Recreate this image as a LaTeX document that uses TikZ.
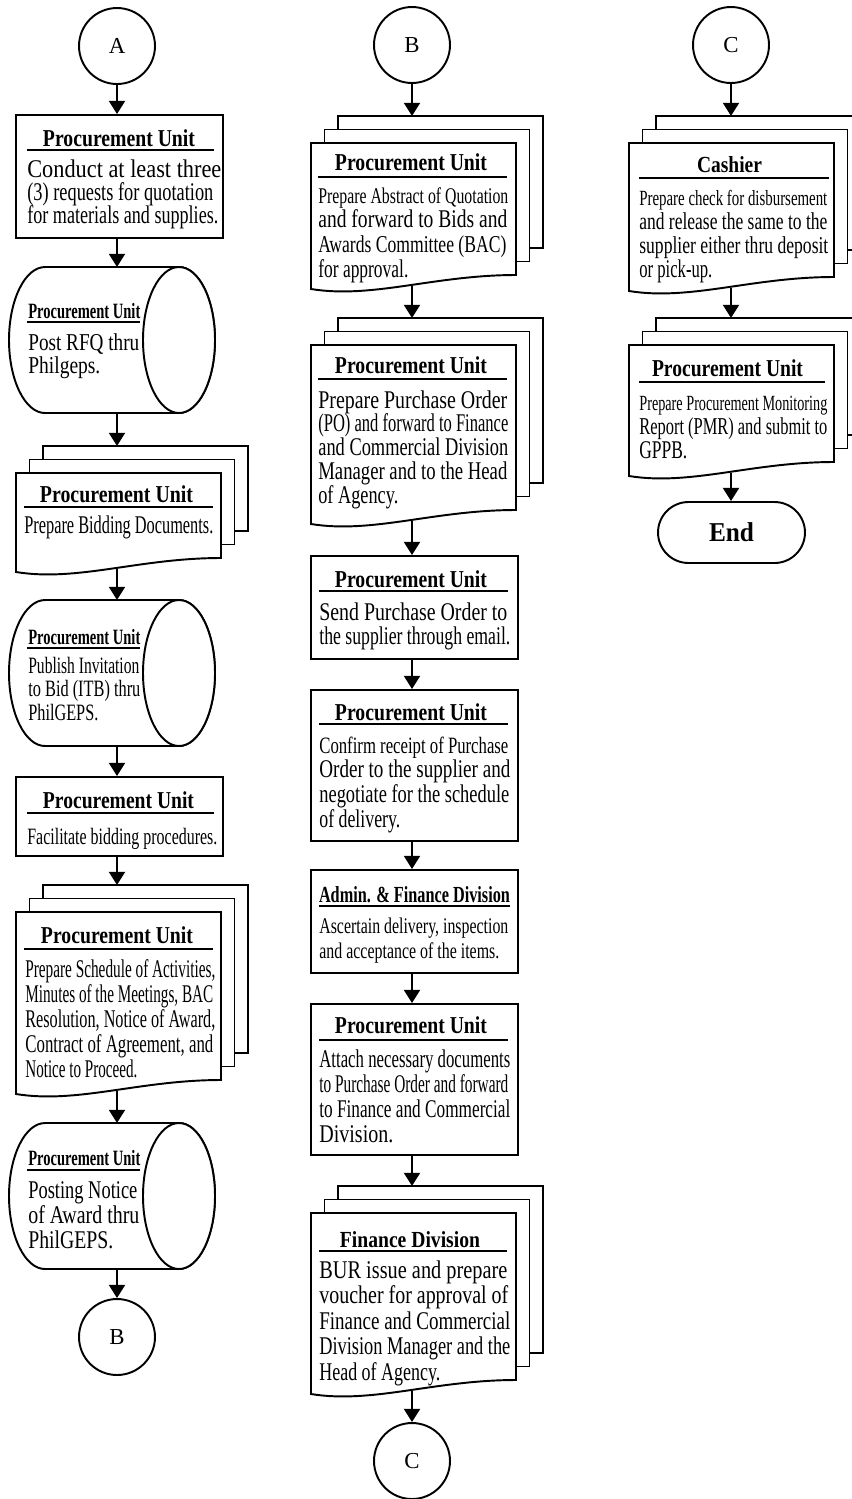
\documentclass[tikz,border=0pt]{standalone}
\usepackage{fontspec}
\setmainfont{Liberation Serif}
\usepackage{graphicx}
\usetikzlibrary{arrows.meta,shapes.misc}

% one drawing unit (a "px") on the page
\newlength\pxu \setlength\pxu{0.02cm}
% a single text line squeezed horizontally to a given width (optional vertical factor)
\newcommand\tline[3][1]{\hbox{\resizebox{#2\pxu}{#1\height}{#3}}}
% a stack of lines with a fixed baseline distance; baseline = first line
\newcommand\tblock[2]{\vtop{\baselineskip=#1\pxu\lineskiplimit=-\maxdimen\lineskip=0pt\relax#2}}
\newcommand\bodyfont{\fontsize{14.5}{14.5}\selectfont}
\newcommand\titlefont{\fontsize{13.8}{13.8}\selectfont\bfseries}

\tikzset{
  shp/.style={draw, line width=1.1pt, fill=white},
  pbox/.style={shp, rectangle, inner sep=0pt},
  hold/.style={rectangle, draw=none, inner sep=0pt, outer sep=0pt, minimum width=0.2cm},
  conn/.style={shp, circle, inner sep=0pt, minimum size=1.52cm, font=\fontsize{13}{13}\selectfont},
  term/.style={shp, rounded rectangle, inner sep=0pt, minimum width=2.94cm, minimum height=1.22cm, font=\fontsize{15.5}{15.5}\selectfont\bfseries},
  arr/.style={line width=1.5pt, -{Triangle[length=7.5pt,width=9pt]}},
  uline/.style={line width=1.1pt},
  ttl/.style={anchor=base, inner sep=0pt, font=\titlefont},
  ttlw/.style={anchor=base west, inner sep=0pt, font=\titlefont},
  body/.style={anchor=base west, inner sep=0pt, font=\bodyfont},
}

% stacked documents: name, front left x, front top y, front right bottom y, axis x
\newcommand\mdoc[5]{%
  \draw[shp] ({#2+27},{#3-27}) rectangle ({#2+232},{#4-27});
  \draw[shp] ({#2+13.5},{#3-13.5}) rectangle ({#2+218.5},{#4-13.5});
  \draw[shp] (#2,#3) -- ({#2+205},#3) -- ({#2+205},#4)
    .. controls ({#2+123},#4) and ({#2+61.5},{#4+24}) .. (#2,{#4+14}) -- cycle;
  \node[hold, minimum height={(#4+37.5-#3)*\pxu}] (#1) at (#5,{(#3-27+#4+10.5)/2}) {};
}
% horizontal storage drum: name, top y, axis x
\newcommand\cyl[3]{%
  \draw[shp] (45,#2) -- (179,#2)
    arc[start angle=90, end angle=-90, x radius=0.72cm, y radius=1.46cm]
    -- (45,{#2+146})
    arc[start angle=270, end angle=90, x radius=0.72cm, y radius=1.46cm] -- cycle;
  \draw[shp] (179,{#2+73}) ellipse[x radius=0.72cm, y radius=1.46cm];
  \node[hold, minimum height={146*\pxu}] (#1) at (#3,{#2+73}) {};
}

\begin{document}
\begin{tikzpicture}[x=0.02cm, y=-0.02cm]
\useasboundingbox (0,0) rectangle (852,1499);
\fill[white] (0,0) rectangle (852,1499);
\clip (0,0) rectangle (852,1499);

\coordinate (axA) at (117,0);
\coordinate (axB) at (412,0);
\coordinate (axC) at (731,0);

% ---------------- column A ----------------
\node[conn] (cA) at (117,46) {A};
\node[pbox, minimum width=4.14cm, minimum height=2.46cm] (a1) at (119.5,176.5) {};
\cyl{a2}{267}{117}
\mdoc{a3}{16}{473}{558}{117}
\cyl{a4}{600}{117}
\node[pbox, minimum width=4.14cm, minimum height=1.58cm] (a5) at (119.5,816.5) {};
\mdoc{a6}{16}{912}{1080}{117}
\cyl{a7}{1123}{117}
\node[conn] (cB2) at (117,1337) {B};

% ---------------- column B ----------------
\node[conn] (cB) at (412,45) {B};
\mdoc{b1}{311}{143}{275}{412}
\mdoc{b2}{311}{345}{510}{412}
\node[pbox, minimum width=4.14cm, minimum height=2.06cm] (b3) at (414.5,607.5) {};
\node[pbox, minimum width=4.14cm, minimum height=3.02cm] (b4) at (414.5,765.5) {};
\node[pbox, minimum width=4.14cm, minimum height=2.06cm] (b5) at (414.5,921.5) {};
\node[pbox, minimum width=4.14cm, minimum height=3.02cm] (b6) at (414.5,1079.5) {};
\mdoc{b7}{311}{1213}{1380}{412}
\node[conn] (cC2) at (412,1461) {C};

% ---------------- column C ----------------
\node[conn] (cC) at (731,45) {C};
\mdoc{c1}{629}{143}{277}{731}
\mdoc{c2}{629}{345}{462}{731}
\node[term] (cEnd) at (731.5,532.5) {\tline{45}{End}};

% ---------------- texts, column A ----------------
\node[ttl] (a1t) at (119,146) {\tline{152}{Procurement Unit}};
\draw[uline] (27,150) -- (214,150);
\node[body] (a1b) at (27,177) {\tblock{23}{%
  \tline{194}{Conduct at least three}%
  \tline{186}{(3) requests for quotation}%
  \tline{191}{for materials and supplies.}}};

\node[ttlw] (a2t) at (28,318) {\tline[0.9]{112}{Procurement Unit}};
\draw[uline] (27,322) -- (140,322);
\node[body] (a2b) at (28,350) {\tblock{23.5}{%
  \tline[0.95]{111}{Post RFQ thru}%
  \tline[0.95]{72}{Philgeps.}}};

\node[ttl] (a3t) at (116.5,502) {\tline{153}{Procurement Unit}};
\draw[uline] (24,507) -- (213,507);
\node[body] (a3b) at (24,533) {\tline{189}{Prepare Bidding Documents.}};

\node[ttlw] (a4t) at (28,644) {\tline[0.9]{112}{Procurement Unit}};
\draw[uline] (27,648) -- (140,648);
\node[body] (a4b) at (28,673) {\tblock{23.5}{%
  \tline[0.92]{111}{Publish Invitation}%
  \tline[0.92]{112}{to Bid (ITB) thru}%
  \tline[0.92]{70}{PhilGEPS.}}};

\node[ttl] (a5t) at (118.5,808) {\tline{151}{Procurement Unit}};
\draw[uline] (27,813) -- (214,813);
\node[body] (a5b) at (27,844) {\tline[0.92]{190}{Facilitate bidding procedures.}};

\node[ttl] (a6t) at (117,943) {\tline{152}{Procurement Unit}};
\draw[uline] (24,949) -- (213,949);
\node[body] (a6b) at (25,977) {\tblock{25}{%
  \tline{190}{Prepare Schedule of Activities,}%
  \tline{188}{Minutes of the Meetings, BAC}%
  \tline{190}{Resolution, Notice of Award,}%
  \tline{188}{Contract of Agreement, and}%
  \tline{112}{Notice to Proceed.}}};

\node[ttlw] (a7t) at (28,1165) {\tline[0.9]{112}{Procurement Unit}};
\draw[uline] (27,1170) -- (140,1170);
\node[body] (a7b) at (28,1198) {\tblock{25}{%
  \tline{109}{Posting Notice}%
  \tline{111}{of Award thru}%
  \tline{85}{PhilGEPS.}}};

% ---------------- texts, column B ----------------
\node[ttl] (b1t) at (411,170) {\tline{152}{Procurement Unit}};
\draw[uline] (318,177) -- (507,177);
\node[body] (b1b) at (318,203) {\tblock{24.7}{%
  \tline[0.88]{190}{Prepare Abstract of Quotation}%
  \tline{189}{and forward to Bids and}%
  \tline[0.95]{188}{Awards Committee (BAC)}%
  \tline{90}{for approval.}}};

\node[ttl] (b2t) at (411,373) {\tline{152}{Procurement Unit}};
\draw[uline] (318,379) -- (507,379);
\node[body] (b2b) at (318,408) {\tblock{23.8}{%
  \tline{189}{Prepare Purchase Order}%
  \tline{190}{(PO) and forward to Finance}%
  \tline{190}{and Commercial Division}%
  \tline{189}{Manager and to the Head}%
  \tline{80}{of Agency.}}};

\node[ttl] (b3t) at (411,587) {\tline{152}{Procurement Unit}};
\draw[uline] (319,591) -- (508,591);
\node[body] (b3b) at (319,620) {\tblock{24}{%
  \tline{188}{Send Purchase Order to}%
  \tline{191}{the supplier through email.}}};

\node[ttl] (b4t) at (411,720) {\tline{152}{Procurement Unit}};
\draw[uline] (319,724) -- (508,724);
\node[body] (b4b) at (319,753) {\tblock{24.7}{%
  \tline[0.92]{189}{Confirm receipt of Purchase}%
  \tline{191}{Order to the supplier and}%
  \tline{190}{negotiate for the schedule}%
  \tline{81}{of delivery.}}};

\node[ttl] (b5t) at (414.5,902) {\tline[0.95]{191}{Admin. \& Finance Division}};
\draw[uline] (319,906) -- (510,906);
\node[body] (b5b) at (319,933) {\tblock{25}{%
  \tline[0.88]{189}{Ascertain delivery, inspection}%
  \tline[0.88]{180}{and acceptance of the items.}}};

\node[ttl] (b6t) at (411,1033) {\tline{152}{Procurement Unit}};
\draw[uline] (319,1040) -- (508,1040);
\node[body] (b6b) at (319,1067) {\tblock{25.3}{%
  \tline{191}{Attach necessary documents}%
  \tline{189}{to Purchase Order and forward}%
  \tline{191}{to Finance and Commercial}%
  \tline{74}{Division.}}};

\node[ttl] (b7t) at (410,1247) {\tline[0.95]{140}{Finance Division}};
\draw[uline] (319,1251) -- (507,1251);
\node[body] (b7b) at (319,1278) {\tblock{25.5}{%
  \tline{188}{BUR issue and prepare}%
  \tline{189}{voucher for approval of}%
  \tline{191}{Finance and Commercial}%
  \tline{191}{Division Manager and the}%
  \tline{121}{Head of Agency.}}};

% ---------------- texts, column C ----------------
\node[ttl] (c1t) at (729.5,172) {\tline[0.95]{65}{Cashier}};
\draw[uline] (639,178) -- (829,178);
\node[body] (c1b) at (639,205) {\tblock{24}{%
  \tline[0.85]{188}{Prepare check for disbursement}%
  \tline[0.95]{188}{and release the same to the}%
  \tline[0.95]{189}{supplier either thru deposit}%
  \tline{73}{or pick-up.}}};

\node[ttl] (c2t) at (727.5,376) {\tline{151}{Procurement Unit}};
\draw[uline] (639,382) -- (825,382);
\node[body] (c2b) at (639,410) {\tblock{24}{%
  \tline[0.85]{188}{Prepare Procurement Monitoring}%
  \tline[0.95]{188}{Report (PMR) and submit to}%
  \tline{48}{GPPB.}}};

% ---------------- connectors ----------------
\draw[arr] (cA.south -| axA) -- (a1.north -| axA);
\draw[arr] (a1.south -| axA) -- (a2.north -| axA);
\draw[arr] (a2.south -| axA) -- (a3.north -| axA);
\draw[arr] (a3.south -| axA) -- (a4.north -| axA);
\draw[arr] (a4.south -| axA) -- (a5.north -| axA);
\draw[arr] (a5.south -| axA) -- (a6.north -| axA);
\draw[arr] (a6.south -| axA) -- (a7.north -| axA);
\draw[arr] (a7.south -| axA) -- (cB2.north -| axA);

\draw[arr] (cB.south -| axB) -- (b1.north -| axB);
\draw[arr] (b1.south -| axB) -- (b2.north -| axB);
\draw[arr] (b2.south -| axB) -- (b3.north -| axB);
\draw[arr] (b3.south -| axB) -- (b4.north -| axB);
\draw[arr] (b4.south -| axB) -- (b5.north -| axB);
\draw[arr] (b5.south -| axB) -- (b6.north -| axB);
\draw[arr] (b6.south -| axB) -- (b7.north -| axB);
\draw[arr] (b7.south -| axB) -- (cC2.north -| axB);

\draw[arr] (cC.south -| axC) -- (c1.north -| axC);
\draw[arr] (c1.south -| axC) -- (c2.north -| axC);
\draw[arr] (c2.south -| axC) -- (cEnd.north -| axC);
\end{tikzpicture}
\end{document}
